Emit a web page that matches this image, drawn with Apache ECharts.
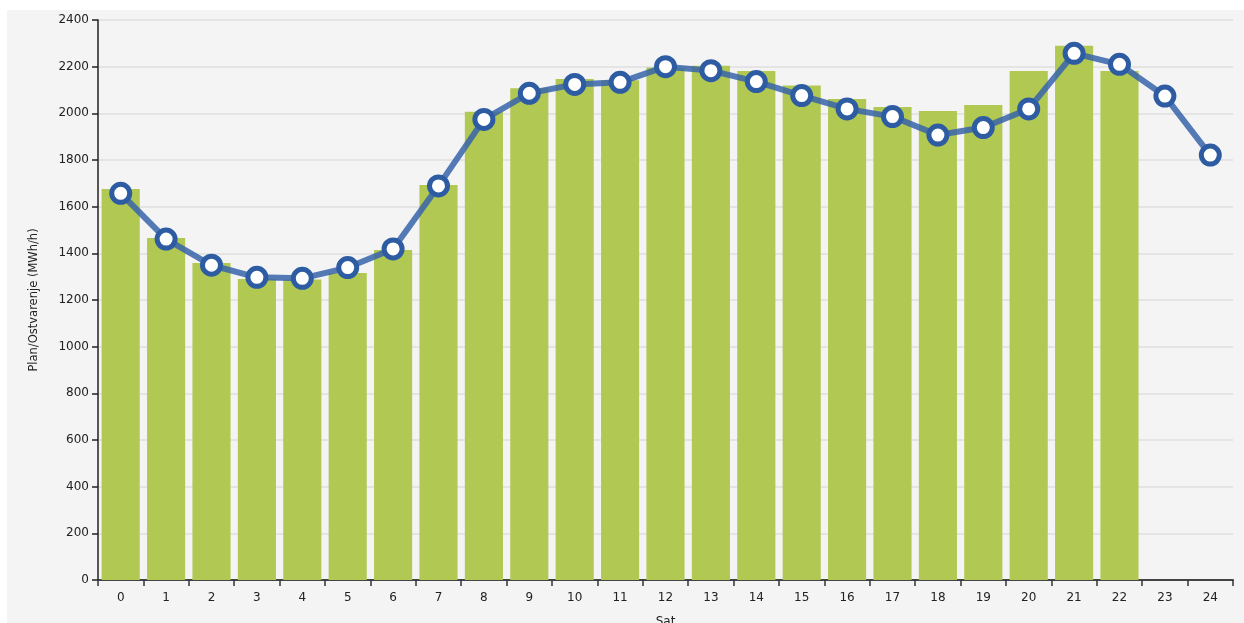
<!DOCTYPE html>
<html>
<head>
<meta charset="utf-8">
<script src="https://cdn.jsdelivr.net/npm/echarts@6/dist/echarts.min.js"></script>
<style>
  html, body { margin: 0; padding: 0; background: #ffffff; overflow: hidden; }
  #wrap { position: absolute; left: 7px; top: 10px; width: 1237px; height: 613px; background: #f4f4f4; }
  #chart { width: 100%; height: 100%; }
</style>
</head>
<body>
<div id="wrap"><div id="chart"></div></div>
<script>
// hours 0..24
const hours = ['0', '1', '2', '3', '4', '5', '6', '7', '8', '9', '10', '11', '12',
  '13', '14', '15', '16', '17', '18', '19', '20', '21', '22', '23', '24']

// realised values (bars), only up to hour 22
const ostvarenje = [1676, 1466, 1359, 1290, 1288, 1316, 1414, 1693, 2007, 2107, 2147, 2142,
  2196, 2204, 2181, 2119, 2061, 2027, 2010, 2036, 2181, 2290, 2181, null, null]

// plan (line)
const plan = [1657, 1461, 1349, 1297, 1293, 1339, 1419, 1689, 1974, 2086, 2124, 2133,
  2200, 2183, 2136, 2076, 2019, 1986, 1907, 1939, 2019, 2257, 2210, 2074, 1821]

const axisText = { fontFamily: '"DejaVu Sans", Verdana, sans-serif', fontSize: 12, color: '#222' }

const chart = echarts.init(document.getElementById('chart'))

chart.setOption({
  animation: false,
  backgroundColor: 'transparent',
  grid: { left: 91, top: 10, right: 11, bottom: 43, outerBoundsMode: 'none', containLabel: false },
  xAxis: {
    type: 'category',
    data: hours,
    boundaryGap: true,
    name: 'Sat',
    nameLocation: 'middle',
    nameGap: 36,
    nameTextStyle: { ...axisText, verticalAlign: 'top' },
    axisLine: { lineStyle: { color: '#444', width: 2 } },
    axisTick: { show: true, length: 6, lineStyle: { color: '#333', width: 1.5 } },
    axisLabel: { ...axisText, margin: 12 },
    splitLine: { show: false }
  },
  yAxis: {
    type: 'value',
    min: 0,
    max: 2400,
    interval: 200,
    name: 'Plan/Ostvarenje (MWh/h)',
    nameLocation: 'middle',
    nameGap: 58,
    nameTextStyle: { ...axisText, fontSize: 11.5 },
    axisLine: { show: true, lineStyle: { color: '#222', width: 1.5 } },
    axisTick: { show: true, length: 6, lineStyle: { color: '#222', width: 1.5 } },
    axisLabel: { ...axisText, margin: 9, formatter: v => String(v) },
    splitLine: { lineStyle: { color: '#e4e4e4', width: 2 } }
  },
  series: [
    {
      name: 'Ostvarenje',
      type: 'bar',
      data: ostvarenje,
      barCategoryGap: '16%',
      itemStyle: { color: '#b1c853' },
      z: 2
    },
    {
      name: 'Plan',
      type: 'line',
      data: plan,
      symbol: 'circle',
      symbolSize: 18,
      lineStyle: { color: 'rgba(55, 100, 170, 0.85)', width: 6 },
      itemStyle: { color: '#ffffff', borderColor: '#2d5ca3', borderWidth: 5 },
      z: 3
    }
  ]
})
</script>
</body>
</html>
